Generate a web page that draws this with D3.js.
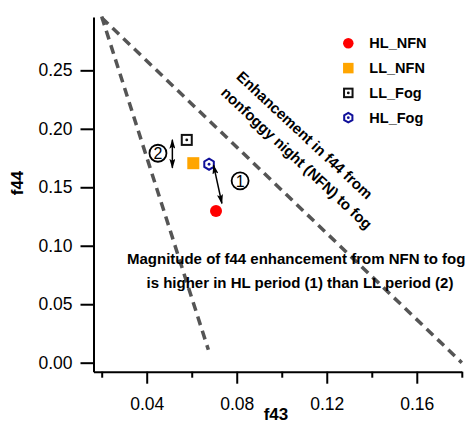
<!DOCTYPE html>
<html>
<head>
<meta charset="utf-8">
<script src="https://cdn.jsdelivr.net/npm/d3@7"></script>
<style>
  body { margin: 0; background: #fff; }
  text { font-family: "Liberation Sans", Arial, sans-serif; }
</style>
</head>
<body>
<div id="chart"></div>
<script>
// values
const series = ["HL_NFN", "LL_NFN", "LL_Fog", "HL_Fog"];
const f43 = [0.0708, 0.0607, 0.0578, 0.0677];
const f44 = [0.1298, 0.1706, 0.1905, 0.1697];

// triangle (dashed) lines
const leftLine = [[0.02, 0.296], [0.0674, 0.011]];
const rightLine = [[0.02, 0.295], [0.18, 0.0]];

const xMajor = [0.04, 0.08, 0.12, 0.16];
const xMinor = [0.02, 0.06, 0.10, 0.14, 0.18];
const yTicks = [0, 0.05, 0.10, 0.15, 0.20, 0.25];

// annotations (data coords)
const arrow1 = [[0.0697, 0.1689], [0.0734, 0.1362]];
const arrow2 = [[0.0514, 0.1906], [0.0514, 0.1666]];
const badges = [{label: "1", x: 0.0815, y: 0.1555}, {label: "2", x: 0.0450, y: 0.1791}];
const diagText = ["Enhancement in f44 from", "nonfoggy night (NFN) to fog"];
const diagPos = [[0.1086, 0.1913], [0.1050, 0.1716]];
const noteText = ["Magnitude of f44 enhancement from NFN to fog", "is higher in HL period (1) than LL period (2)"];
const notePos = [[0.1064, 0.0844], [0.1081, 0.0639]];

var width = 473, height = 424;

var svg = d3.select("#chart").append("svg")
  .attr("width", width)
  .attr("height", height);

var x = d3.scaleLinear().domain([0.01636, 0.18]).range([93.5, 461.8]);
var y = d3.scaleLinear().domain([-0.0077, 0.2956]).range([371.7, 17]);

var defs = svg.append("defs");
defs.append("marker")
  .attr("id", "head")
  .attr("viewBox", "0 0 10 6")
  .attr("refX", 9).attr("refY", 3)
  .attr("markerWidth", 10).attr("markerHeight", 6)
  .attr("markerUnits", "userSpaceOnUse")
  .attr("orient", "auto-start-reverse")
  .append("path")
  .attr("d", "M0,0 L10,3 L0,6 L2,3 z")
  .attr("fill", "#000");

// dashed triangle
var line = d3.line().x(d => x(d[0])).y(d => y(d[1]));
[leftLine, rightLine].forEach(l => {
  svg.append("path")
    .attr("d", line(l))
    .attr("fill", "none")
    .attr("stroke", "#555")
    .attr("stroke-width", 3.5)
    .attr("stroke-dasharray", "9,6");
});

// axes
svg.append("g")
  .attr("transform", `translate(${x.range()[0]},0)`)
  .call(d3.axisLeft(y).tickValues(yTicks).tickFormat(d3.format(".2f"))
    .tickSize(13).tickSizeOuter(0).tickPadding(8));

svg.append("g")
  .attr("transform", `translate(0,${y.range()[0]})`)
  .call(d3.axisBottom(x).tickValues(xMajor).tickFormat(d3.format(".2f"))
    .tickSize(12).tickSizeOuter(0).tickPadding(14));

svg.append("g")
  .attr("transform", `translate(0,${y.range()[0]})`)
  .call(d3.axisBottom(x).tickValues(xMinor).tickFormat("").tickSize(6).tickSizeOuter(0))
  .select(".domain").remove();

svg.selectAll(".domain, .tick line")
  .attr("stroke", "#000")
  .attr("stroke-width", 2);
svg.selectAll(".tick text")
  .style("font-size", "17.5px")
  .attr("fill", "#000");

svg.append("text")
  .attr("transform", "translate(23,183) rotate(-90)")
  .attr("text-anchor", "middle")
  .style("font-size", "17px")
  .style("font-weight", "bold")
  .text("f44");

svg.append("text")
  .attr("x", 276).attr("y", 420)
  .attr("text-anchor", "middle")
  .style("font-size", "17px")
  .style("font-weight", "bold")
  .text("f43");

// markers
function marker(g, name, s) {
  if (name === "HL_NFN") {
    g.append("circle").attr("r", s / 2).attr("fill", "#ff0000");
  } else if (name === "LL_NFN") {
    g.append("rect").attr("x", -s / 2).attr("y", -s / 2).attr("width", s).attr("height", s)
      .attr("fill", "#ffa500");
  } else if (name === "LL_Fog") {
    var a = s / 2 - 1;
    g.append("rect").attr("x", -a).attr("y", -a).attr("width", 2 * a).attr("height", 2 * a)
      .attr("fill", "#fff").attr("stroke", "#111").attr("stroke-width", 2);
    g.append("circle").attr("r", 1.4).attr("fill", "#111");
  } else {
    var r = s / 2 - 0.5;
    var pts = d3.range(6).map(i => {
      var ang = Math.PI / 3 * i - Math.PI / 2;
      return [r * Math.cos(ang), r * Math.sin(ang)];
    });
    g.append("path").attr("d", "M" + pts.join("L") + "Z")
      .attr("fill", "#fff").attr("stroke", "#10109a").attr("stroke-width", 2);
    g.append("circle").attr("r", 1.4).attr("fill", "#10109a");
  }
}

series.forEach((s, i) => {
  var g = svg.append("g").attr("transform", `translate(${x(f43[i])},${y(f44[i])})`);
  marker(g, s, 12);
});

// arrows
[arrow1, arrow2].forEach(a => {
  svg.append("line")
    .attr("x1", x(a[0][0])).attr("y1", y(a[0][1]))
    .attr("x2", x(a[1][0])).attr("y2", y(a[1][1]))
    .attr("stroke", "#000").attr("stroke-width", 1.5)
    .attr("marker-start", "url(#head)")
    .attr("marker-end", "url(#head)");
});

badges.forEach(b => {
  svg.append("circle")
    .attr("cx", x(b.x)).attr("cy", y(b.y)).attr("r", 8.5)
    .attr("fill", "#fff").attr("stroke", "#000").attr("stroke-width", 1.8);
  svg.append("text")
    .attr("x", x(b.x)).attr("y", y(b.y))
    .attr("dy", "0.36em")
    .attr("text-anchor", "middle")
    .style("font-size", "16px")
    .text(b.label);
});

// diagonal text
diagText.forEach((t, i) => {
  svg.append("text")
    .attr("transform", `translate(${x(diagPos[i][0])},${y(diagPos[i][1])}) rotate(43)`)
    .attr("text-anchor", "middle")
    .style("font-size", "15px")
    .style("font-weight", "bold")
    .text(t);
});

noteText.forEach((t, i) => {
  svg.append("text")
    .attr("x", x(notePos[i][0])).attr("y", y(notePos[i][1]))
    .attr("text-anchor", "middle")
    .style("font-size", "15px")
    .style("font-weight", "bold")
    .text(t);
});

// legend
var legend = svg.append("g");
series.forEach((s, i) => {
  var row = legend.append("g").attr("transform", `translate(348.3,${43.3 + i * 24.8})`);
  marker(row, s, 10.5);
  row.append("text")
    .attr("x", 21).attr("y", 5)
    .style("font-size", "14.5px")
    .style("font-weight", "bold")
    .text(s);
});
</script>
</body>
</html>
